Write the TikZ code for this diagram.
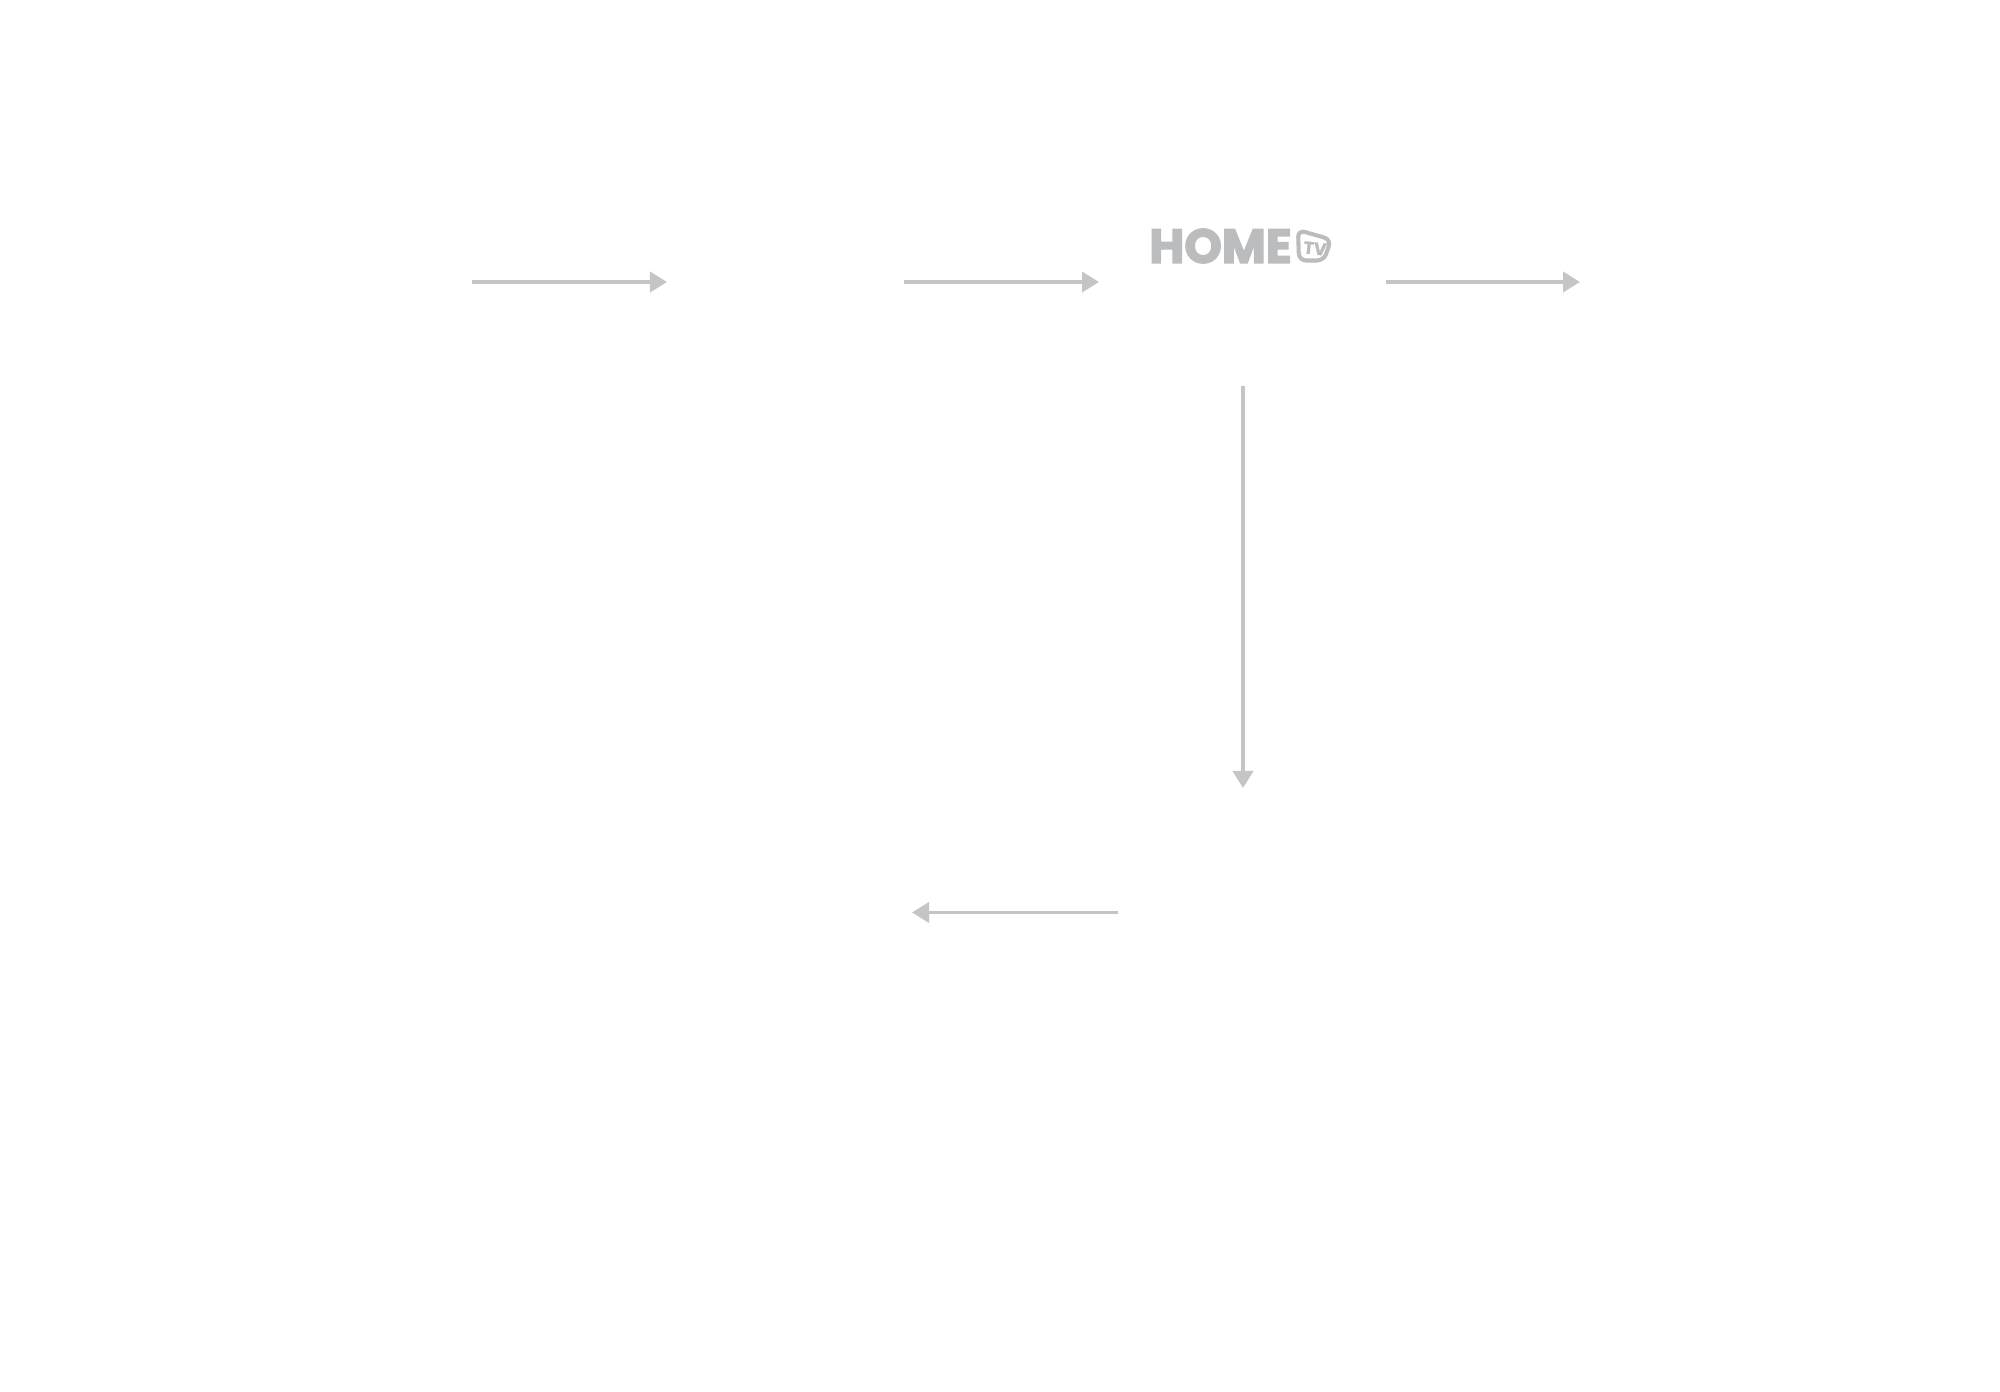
\documentclass[tikz,border=0pt]{standalone}
\usepackage{fontspec}
\usetikzlibrary{arrows.meta,positioning}
\newfontfamily\logofont[FakeBold=3]{Poppins}
\newfontfamily\badgefont[FakeBold=1.5]{Poppins}
\definecolor{logogray}{HTML}{BBBCBD}
\definecolor{arrowgray}{HTML}{C4C5C5}

\begin{document}
\begin{tikzpicture}[x=0.01cm,y=-0.01cm,
		every edge/.style={draw=arrowgray, -{Triangle[length=1.7mm,width=2mm]}, line width=1.1pt},
		logotext/.style={inner sep=0pt,text=logogray}]
		\useasboundingbox (0,0) rectangle (2000,1392);

		% Nodes
		\coordinate (a1) at (472,282);
		\coordinate (a2) at (667,282);
		\coordinate (b1) at (904,282);
		\coordinate (b2) at (1099,282);
		\coordinate (c1) at (1386,282);
		\coordinate (c2) at (1580,282);
		\coordinate (d1) at (1243,386);
		\coordinate (d2) at (1243,788);
		\coordinate (e1) at (1118,912.5);
		\coordinate (e2) at (912,912.5);
		\node (home) [logotext,font=\logofont\bfseries\fontsize{13.6}{13.6}\selectfont] at (1220.5,246) {HOME};
		\node (tv) [logotext,rotate=-6,font=\badgefont\bfseries\fontsize{4.9}{4.9}\selectfont] at (1315,248.5) {TV};

		% Badge
		\draw[logogray,line width=1.15pt,rounded corners=0.7mm] (1298,230) -- (1331,239.5) -- (1324,260.5) -- (1299,260.5) -- cycle;

		% Edges
		\draw (a1) edge (a2);
		\draw (b1) edge (b2);
		\draw (c1) edge (c2);
		\draw (d1) edge (d2);
		\draw (e1) edge (e2);
	\end{tikzpicture}
\end{document}
